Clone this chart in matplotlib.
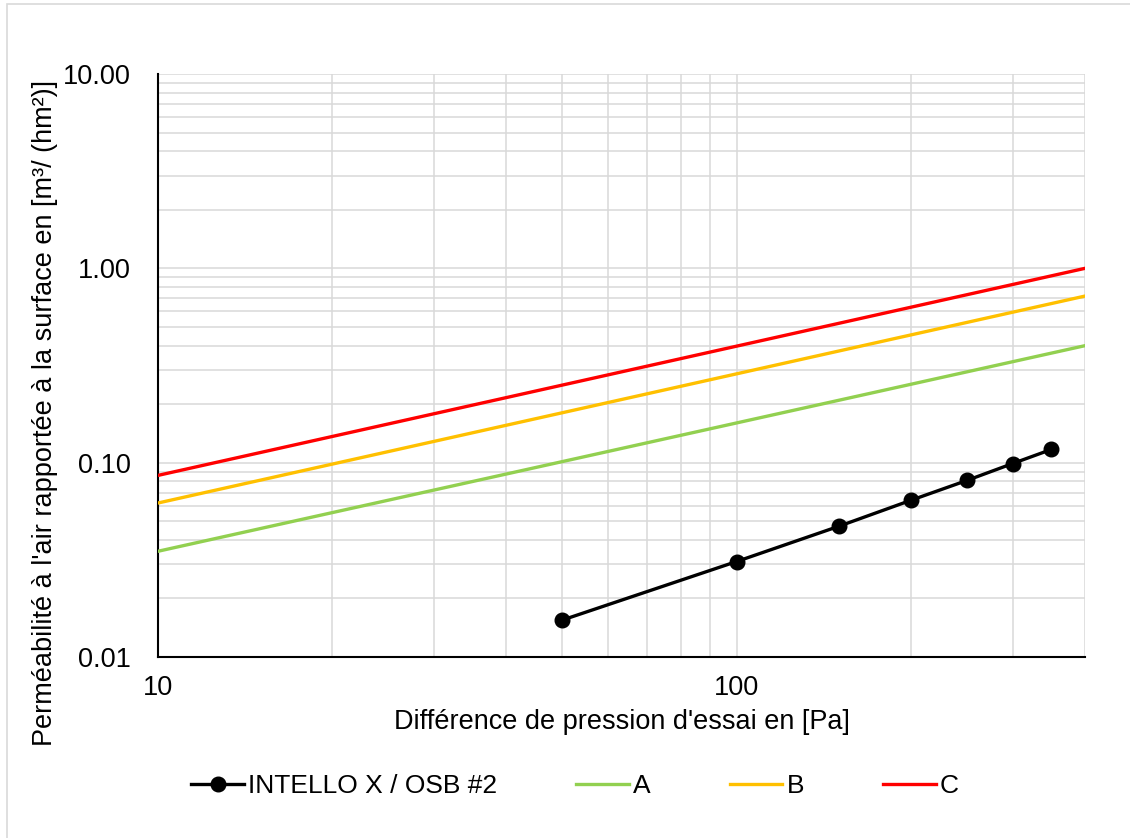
import matplotlib
matplotlib.use("Agg")
import matplotlib.pyplot as plt
from matplotlib.patches import Rectangle
from matplotlib.ticker import FixedLocator, FuncFormatter, NullFormatter

plt.rcParams['font.family'] = ['Liberation Sans', 'DejaVu Sans']

# measured series
pressure = [50, 100, 150, 200, 250, 300, 350]
intello = [0.0155, 0.031, 0.047, 0.064, 0.081, 0.099, 0.117]

# class limit lines (end points, straight on log-log)
class_x = [10, 400]
class_a = [0.035, 0.40]
class_b = [0.062, 0.72]
class_c = [0.086, 1.0]

x_major = [10, 100]
x_minor = [20, 30, 40, 50, 60, 70, 80, 90, 200, 300, 400]
y_major = [0.01, 0.1, 1, 10]


def main():
    fig = plt.figure(figsize=(11.3, 8.38), dpi=100)
    ax = fig.add_axes([158 / 1130, 1 - 657 / 838, 927 / 1130, 583 / 838])

    ax.set_xscale('log')
    ax.set_yscale('log')
    ax.set_xlim(10, 400)
    ax.set_ylim(0.01, 10)

    ax.plot(pressure, intello, color='black', lw=2.4, marker='o',
            markersize=10.5, label='INTELLO X / OSB #2', zorder=5)
    ax.plot(class_x, class_a, color='#92D050', lw=2.4, label='A', zorder=4)
    ax.plot(class_x, class_b, color='#FFC000', lw=2.4, label='B', zorder=4)
    ax.plot(class_x, class_c, color='#FF0000', lw=2.4, label='C', zorder=4)

    ax.xaxis.set_major_locator(FixedLocator(x_major))
    ax.xaxis.set_minor_locator(FixedLocator(x_minor))
    ax.xaxis.set_major_formatter(FuncFormatter(lambda v, p: f"{v:.0f}"))
    ax.xaxis.set_minor_formatter(NullFormatter())
    ax.yaxis.set_major_locator(FixedLocator(y_major))
    ax.yaxis.set_major_formatter(FuncFormatter(lambda v, p: f"{v:.2f}"))
    ax.yaxis.set_minor_formatter(NullFormatter())

    ax.grid(True, which='both', color='#d9d9d9', lw=1.1, zorder=0)
    ax.set_axisbelow(True)
    ax.tick_params(which='both', length=0, labelsize=19.5)
    ax.tick_params(axis='y', pad=19.5)
    ax.tick_params(axis='x', pad=13)

    for side in ['top', 'right']:
        ax.spines[side].set_visible(False)
    for side in ['left', 'bottom']:
        ax.spines[side].set_color('black')
        ax.spines[side].set_linewidth(1.5)

    ax.set_xlabel("Différence de pression d'essai en [Pa]", fontsize=19.5,
                  labelpad=6)
    fig.text(45 / 1130, 1 - 413 / 838,
             "Perméabilité à l'air rapportée à la surface en [m³/ (hm²)]",
             fontsize=19.5, rotation=90, ha='center', va='center')

    fig.legend(loc='center', bbox_to_anchor=(575 / 1130, 1 - 786 / 838),
               ncol=4, frameon=False, fontsize=19, handlelength=2.0,
               handletextpad=0.15, columnspacing=3.0)

    fig.add_artist(Rectangle((7 / 1130, -0.01), 1.0, 1 - 4 / 838 + 0.01,
                             transform=fig.transFigure, fill=False,
                             edgecolor='#d9d9d9', lw=1.2))

    fig.savefig('out.png', dpi=100)


if __name__ == "__main__":
    main()
